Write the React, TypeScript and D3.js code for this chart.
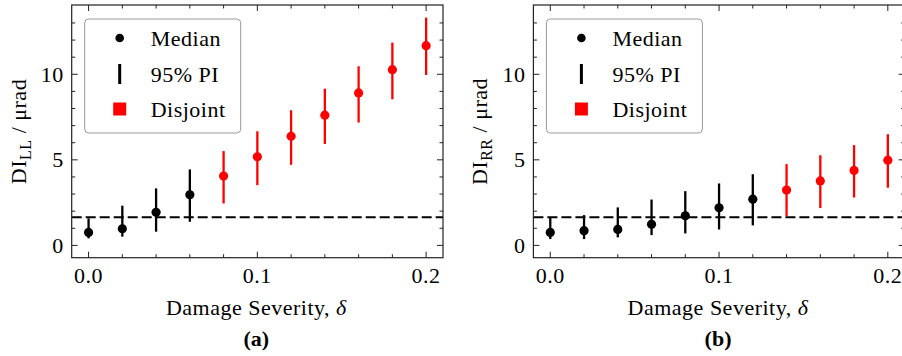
import React, { useEffect, useRef } from "react";
import * as d3 from "d3";

// damage severity levels (shared x values)
const severity = [0, 0.02, 0.04, 0.06, 0.08, 0.1, 0.12, 0.14, 0.16, 0.18, 0.2];

// panel (a): DI_LL
const medianLL = [0.76, 0.97, 1.93, 2.96, 4.05, 5.18, 6.38, 7.61, 8.91, 10.27, 11.67];
const lowerLL = [0.41, 0.51, 0.8, 1.38, 2.45, 3.52, 4.71, 5.93, 7.18, 8.54, 9.96];
const upperLL = [1.58, 2.32, 3.33, 4.44, 5.51, 6.67, 7.9, 9.16, 10.47, 11.85, 13.31];

// panel (b): DI_RR
const medianRR = [0.76, 0.86, 0.93, 1.23, 1.73, 2.2, 2.7, 3.23, 3.77, 4.38, 4.98];
const lowerRR = [0.37, 0.37, 0.47, 0.6, 0.7, 0.93, 1.17, 1.72, 2.18, 2.8, 3.37];
const upperRR = [1.63, 1.77, 2.22, 2.68, 3.17, 3.62, 4.16, 4.75, 5.27, 5.86, 6.5];

// healthy-state threshold (dashed line)
const threshold = 1.64;

const xTicks = [0, 0.1, 0.2];
const yTicks = [0, 5, 10];
const legendLabels = ["Median", "95% PI", "Disjoint"];

const FONT = "'Liberation Serif', 'Times New Roman', serif";
const FS = 22;
const LS = 0.5;

type Panel = {
  left: number;
  sub: string;
  tag: string;
  median: number[];
  lower: number[];
  upper: number[];
};

const panels: Panel[] = [
  { left: 71.7, sub: "LL", tag: "(a)", median: medianLL, lower: lowerLL, upper: upperLL },
  { left: 533.4, sub: "RR", tag: "(b)", median: medianRR, lower: lowerRR, upper: upperRR },
];

const App: React.FC = () => {
  const ref = useRef<SVGSVGElement | null>(null);

  useEffect(() => {
    const root = d3.select(ref.current);
    root.selectAll("*").remove();

    const width = 371.3;
    const top = 5;
    const bottom = 257.7;

    panels.forEach((p) => {
      const x = d3.scaleLinear().domain([-0.01, 0.21]).range([0, width]);
      const y = d3.scaleLinear().domain([-0.72, 14.05]).range([bottom - top, 0]);
      const h = bottom - top;

      const g = root.append("g").attr("transform", `translate(${p.left},${top})`);

      // dashed threshold
      g.append("line")
        .attr("x1", 0)
        .attr("x2", width)
        .attr("y1", y(threshold))
        .attr("y2", y(threshold))
        .attr("stroke", "#000")
        .attr("stroke-width", 2)
        .attr("stroke-dasharray", "10,4");

      const pts = severity.map((s, i) => ({
        s,
        m: p.median[i],
        lo: p.lower[i],
        hi: p.upper[i],
        col: p.lower[i] > threshold ? "#ff0000" : "#000000",
      }));

      g.selectAll("line.err")
        .data(pts)
        .join("line")
        .attr("class", "err")
        .attr("x1", (d) => x(d.s))
        .attr("x2", (d) => x(d.s))
        .attr("y1", (d) => y(d.lo))
        .attr("y2", (d) => y(d.hi))
        .attr("stroke", (d) => d.col)
        .attr("stroke-width", 2.3);

      g.selectAll("circle.med")
        .data(pts)
        .join("circle")
        .attr("class", "med")
        .attr("cx", (d) => x(d.s))
        .attr("cy", (d) => y(d.m))
        .attr("r", 4.6)
        .attr("fill", (d) => d.col);

      // ticks inward on all four sides
      const minorX = d3.range(0, 0.2001, 0.02);
      const minorY = d3.range(0, 14, 1);
      const tickStroke = "#222";
      const tk = g.append("g").attr("stroke", tickStroke).attr("stroke-width", 1);
      minorX.forEach((v) => {
        const major = xTicks.some((t) => Math.abs(t - v) < 1e-6);
        const len = major ? 6 : 3.5;
        tk.append("line").attr("x1", x(v)).attr("x2", x(v)).attr("y1", h).attr("y2", h - len);
        tk.append("line").attr("x1", x(v)).attr("x2", x(v)).attr("y1", 0).attr("y2", len);
      });
      minorY.forEach((v) => {
        const major = yTicks.includes(v);
        const len = major ? 6 : 3.5;
        tk.append("line").attr("x1", 0).attr("x2", len).attr("y1", y(v)).attr("y2", y(v));
        tk.append("line").attr("x1", width).attr("x2", width - len).attr("y1", y(v)).attr("y2", y(v));
      });

      g.append("rect")
        .attr("width", width)
        .attr("height", h)
        .attr("fill", "none")
        .attr("stroke", tickStroke)
        .attr("stroke-width", 1.2);

      // tick labels
      g.selectAll("text.xt")
        .data(xTicks)
        .join("text")
        .attr("class", "xt")
        .attr("x", (d) => x(d))
        .attr("y", 283 - top)
        .attr("text-anchor", "middle")
        .attr("font-family", FONT)
        .attr("font-size", FS)
        .attr("letter-spacing", LS)
        .text((d) => d3.format(".1f")(d));

      g.selectAll("text.yt")
        .data(yTicks)
        .join("text")
        .attr("class", "yt")
        .attr("x", -8)
        .attr("y", (d) => y(d) + 7.5)
        .attr("text-anchor", "end")
        .attr("font-family", FONT)
        .attr("font-size", FS)
        .attr("letter-spacing", LS)
        .text((d) => d);

      // axis labels
      const xl = g
        .append("text")
        .attr("x", width / 2 - 1)
        .attr("y", 315 - top)
        .attr("text-anchor", "middle")
        .attr("font-family", FONT)
        .attr("font-size", FS)
        .attr("letter-spacing", LS);
      xl.append("tspan").text("Damage Severity, ");
      xl.append("tspan").attr("font-style", "italic").text("δ");

      g.append("text")
        .attr("x", width / 2 - 1)
        .attr("y", 346 - top)
        .attr("text-anchor", "middle")
        .attr("font-family", FONT)
        .attr("font-size", FS)
        .attr("font-weight", "bold")
        .text(p.tag);

      const yl = g
        .append("text")
        .attr("transform", `translate(${-46},${131.5 - top}) rotate(-90)`)
        .attr("text-anchor", "middle")
        .attr("font-family", FONT)
        .attr("font-size", FS)
        .attr("letter-spacing", LS);
      yl.append("tspan").text("DI");
      yl.append("tspan").attr("font-size", 16).attr("dy", 5).text(p.sub);
      yl.append("tspan").attr("dy", -5).text(" / μrad");

      // legend
      const lg = g.append("g").attr("transform", "translate(13,14)");
      lg.append("rect")
        .attr("width", 156)
        .attr("height", 114)
        .attr("rx", 4)
        .attr("fill", "#fff")
        .attr("fill-opacity", 0.9)
        .attr("stroke", "#999")
        .attr("stroke-width", 1);
      const mx = 35;
      const rows = [19, 55, 90];
      lg.append("circle").attr("cx", mx).attr("cy", rows[0]).attr("r", 4.3).attr("fill", "#000");
      lg.append("line")
        .attr("x1", mx)
        .attr("x2", mx)
        .attr("y1", rows[1] - 10)
        .attr("y2", rows[1] + 10)
        .attr("stroke", "#000")
        .attr("stroke-width", 3);
      lg.append("rect")
        .attr("x", mx - 6.5)
        .attr("y", rows[2] - 6.5)
        .attr("width", 13)
        .attr("height", 13)
        .attr("fill", "#ff0000");
      lg.selectAll("text")
        .data(legendLabels)
        .join("text")
        .attr("x", 66)
        .attr("y", (d, i) => rows[i] + 7.5)
        .attr("font-family", FONT)
        .attr("font-size", FS)
        .attr("letter-spacing", LS)
        .text((d) => d);
    });
  }, []);

  return (
    <svg
      ref={ref}
      width={902}
      height={356}
      style={{ position: "absolute", left: 0, top: 0, background: "#fff" }}
    />
  );
};

export default App;
